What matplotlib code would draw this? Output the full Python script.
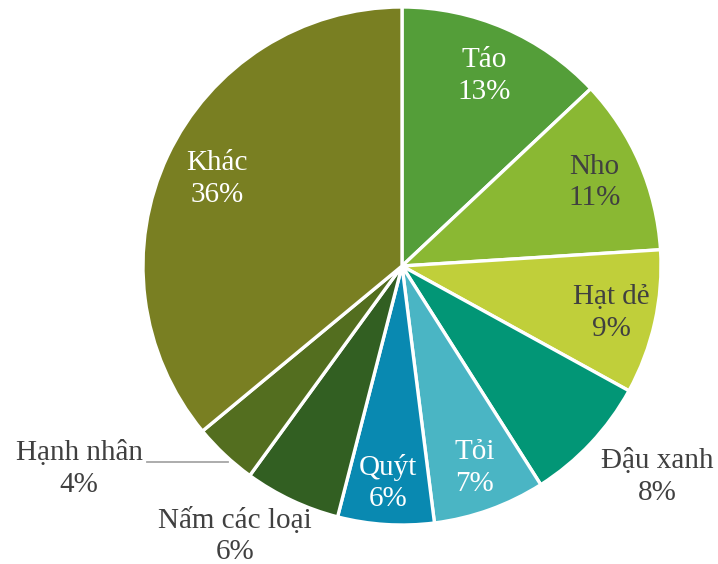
import matplotlib
matplotlib.use("Agg")
import matplotlib.pyplot as plt
import numpy as np

labels = ["Táo", "Nho", "Hạt dẻ", "Đậu xanh", "Tỏi", "Quýt", "Nấm các loại", "Hạnh nhân", "Khác"]
values = [13, 11, 9, 8, 7, 6, 6, 4, 36]
colors = ["#549E39", "#8AB833", "#C0CF3A", "#029676", "#4AB5C4", "#0989B1",
          "#325F22", "#536E1F", "#797F22"]

W, H = 718, 564
fig = plt.figure(figsize=(W / 100, H / 100), dpi=100)
ax = fig.add_axes([0, 0, 1, 1])

cx, cy, R = 402, H - 266, 259
wedges, _ = ax.pie(values, colors=colors, startangle=90, counterclock=False,
                   center=(cx, cy), radius=R, frame=True,
                   wedgeprops=dict(edgecolor="white", linewidth=2.4))
ax.set_xlim(0, W)
ax.set_ylim(0, H)
ax.set_aspect("equal")
ax.axis("off")

font = dict(family="Liberation Serif", fontsize=21, ha="center", va="center",
            linespacing=1.28)
dark = "#404040"
# label placement: (distance factor, colour) per slice; outside labels handled separately
inside = {0: (0.80, "white"), 1: (0.81, dark), 2: (0.83, dark), 4: (0.83, "white"),
          5: (0.84, "white"), 8: (0.79, "white")}
total = sum(values)
cum = 0
for i, (lab, v) in enumerate(zip(labels, values)):
    mid = 90 - 360 * (cum + v / 2) / total
    cum += v
    txt = f"{lab}\n{v}%"
    if i in inside:
        f, c = inside[i]
        x = cx + f * R * np.cos(np.radians(mid))
        y = cy + f * R * np.sin(np.radians(mid))
        ax.text(x, y, txt, color=c, **font)

ax.text(657, H - 477, f"{labels[3]}\n{values[3]}%", color=dark, **font)
ax.text(235, H - 536, f"{labels[6]}\n{values[6]}%", color=dark, **font)
ax.text(79, H - 469, f"{labels[7]}\n{values[7]}%", color=dark, **font)
ax.plot([147, 228], [H - 462, H - 462], color="#A6A6A6", linewidth=1.3)

fig.savefig("out.png", dpi=100, facecolor="white")
